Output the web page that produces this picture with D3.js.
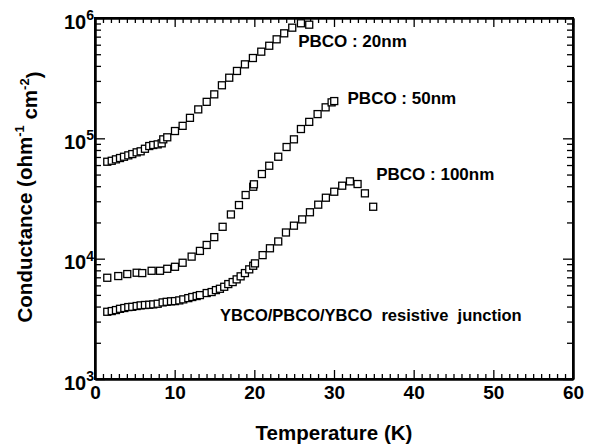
<!DOCTYPE html>
<html>
<head>
<meta charset="utf-8">
<script src="https://cdn.jsdelivr.net/npm/d3@7"></script>
<style>
body { margin: 0; background: #fff; }
svg text { font-family: "Liberation Sans", Arial, Helvetica, sans-serif; font-weight: bold; fill: #000; }
.axis path, .axis line { stroke: #000; }
</style>
</head>
<body>
<svg id="chart" width="595" height="444"></svg>
<script>
// temperature (K) and conductance (ohm^-1 cm^-2)
var t20 = [1.54, 2.10, 2.63, 3.14, 3.64, 4.18, 4.68, 5.23, 5.73, 6.27, 6.81, 7.31, 7.87, 8.37, 8.57, 9.07,
    10.04, 11.0, 11.92, 12.96, 14.02, 14.97, 15.93, 16.85, 17.82, 18.82, 19.82, 20.87, 21.87, 22.80, 23.75, 24.76, 25.85, 26.89];
var g20 = [6.39e4, 6.51e4, 6.69e4, 6.86e4, 7.03e4, 7.22e4, 7.40e4, 7.65e4, 7.80e4, 8.19e4, 8.63e4, 8.80e4, 8.91e4, 9.09e4, 9.81e4, 1.02e5,
    1.15e5, 1.27e5, 1.48e5, 1.74e5, 2.01e5, 2.32e5, 2.76e5, 3.19e5, 3.63e5, 4.12e5, 4.65e5, 5.25e5, 5.88e5, 6.65e5, 7.46e5, 8.31e5, 9.04e5, 8.80e5];

var t50 = [1.54, 2.92, 4.05, 5.23, 5.93, 7.11, 8.16, 9.07, 10.04, 11.0, 12.13, 13.17, 14.02, 14.97, 16.02, 17.06, 18.07,
    18.91, 19.86, 19.95, 20.95, 21.87, 23.0, 24.05, 24.97, 25.85, 26.89, 27.94, 28.95, 29.70, 30.03];
var g50 = [6.94e3, 7.17e3, 7.45e3, 7.64e3, 7.59e3, 7.93e3, 7.93e3, 8.24e3, 8.56e3, 9.25e3, 1.04e4, 1.16e4, 1.30e4, 1.51e4, 1.84e4, 2.33e4, 2.79e4,
    3.38e4, 3.96e4, 4.15e4, 5.05e4, 5.92e4, 7.03e4, 8.47e4, 9.81e4, 1.195e5, 1.37e5, 1.59e5, 1.81e5, 1.99e5, 2.04e5];

var t100 = [1.54, 2.10, 2.63, 3.14, 3.68, 4.18, 4.68, 5.23, 5.73, 6.27, 6.81, 7.31, 7.87, 8.49, 9.0, 9.54, 10.04, 10.58, 11.08,
    11.71, 12.21, 12.76, 13.17, 14.02, 14.64, 15.18, 15.68, 16.22, 16.73, 17.28, 17.78, 18.28, 18.82, 19.36, 19.86, 20.08,
    21.04, 21.96, 23.0, 23.97, 24.97, 26.01, 26.98, 28.02, 28.98, 30.03, 31.03, 32.0, 32.96, 33.88, 34.92];
var g100 = [3.62e3, 3.67e3, 3.74e3, 3.83e3, 3.89e3, 3.96e3, 3.98e3, 4.04e3, 4.09e3, 4.12e3, 4.14e3, 4.17e3, 4.22e3, 4.33e3, 4.38e3, 4.42e3, 4.44e3, 4.50e3, 4.59e3,
    4.70e3, 4.80e3, 4.89e3, 4.98e3, 5.18e3, 5.28e3, 5.48e3, 5.62e3, 5.84e3, 6.15e3, 6.39e3, 6.73e3, 7.13e3, 7.59e3, 8.15e3, 8.73e3, 9.14e3,
    1.07e4, 1.22e4, 1.39e4, 1.65e4, 1.88e4, 2.12e4, 2.43e4, 2.81e4, 3.21e4, 3.60e4, 4.04e4, 4.39e4, 4.17e4, 3.49e4, 2.70e4];

var seriesLabels = ["PBCO : 20nm", "PBCO : 50nm", "PBCO : 100nm"];
var xTicks = [0, 10, 20, 30, 40, 50, 60];
var yDecades = [1e3, 1e4, 1e5, 1e6];

var svg = d3.select("#chart");
var margin = { left: 95, right: 573, top: 18, bottom: 379 };

var x = d3.scaleLinear().domain([0, 60]).range([margin.left, margin.right]);
var y = d3.scaleLog().domain([1e3, 1e6]).range([margin.bottom, margin.top]);

var minorX = d3.range(0, 61, 1).filter(function(d) { return d % 10 !== 0; });
var minorY = [];
[1e3, 1e4, 1e5].forEach(function(p) {
    for (var k = 2; k <= 9; k++) minorY.push(p * k);
});

function noLabels(axis) {
    return axis.tickFormat("").tickSizeOuter(0);
}

// minor ticks, all four sides, pointing in
svg.append("g").attr("class", "axis").attr("transform", "translate(0," + margin.bottom + ")")
    .call(noLabels(d3.axisBottom(x).tickValues(minorX).tickSize(-5)));
svg.append("g").attr("class", "axis").attr("transform", "translate(0," + margin.top + ")")
    .call(noLabels(d3.axisTop(x).tickValues(minorX).tickSize(-5)));
svg.append("g").attr("class", "axis").attr("transform", "translate(" + margin.left + ",0)")
    .call(noLabels(d3.axisLeft(y).tickValues(minorY).tickSize(-6)));
svg.append("g").attr("class", "axis").attr("transform", "translate(" + margin.right + ",0)")
    .call(noLabels(d3.axisRight(y).tickValues(minorY).tickSize(-6)));

// major ticks
var xAxis = svg.append("g").attr("class", "axis").attr("transform", "translate(0," + margin.bottom + ")")
    .call(d3.axisBottom(x).tickValues(xTicks).tickSize(-9).tickSizeOuter(0).tickPadding(6).tickFormat(d3.format("d")));
xAxis.selectAll("text").attr("font-size", 19).attr("dy", "0.74em");

svg.append("g").attr("class", "axis").attr("transform", "translate(0," + margin.top + ")")
    .call(noLabels(d3.axisTop(x).tickValues(xTicks).tickSize(-9)));
svg.append("g").attr("class", "axis").attr("transform", "translate(" + margin.right + ",0)")
    .call(noLabels(d3.axisRight(y).tickValues(yDecades).tickSize(-10)));

var yAxis = svg.append("g").attr("class", "axis").attr("transform", "translate(" + margin.left + ",0)")
    .call(d3.axisLeft(y).tickValues(yDecades).tickSize(-10).tickSizeOuter(0).tickPadding(0).tickFormat(""));
yAxis.selectAll(".tick text").each(function(d) {
    var t = d3.select(this).attr("font-size", 20).attr("dy", "0.5em").attr("x", -1);
    t.append("tspan").text("10");
    t.append("tspan").attr("font-size", 14).attr("dy", "-0.6em").text(Math.round(Math.log10(d)));
});

svg.selectAll(".axis path").attr("stroke-width", 2);
svg.selectAll(".axis line").attr("stroke-width", 1.3);

// frame
svg.append("rect").attr("x", margin.left).attr("y", margin.top)
    .attr("width", margin.right - margin.left).attr("height", margin.bottom - margin.top)
    .attr("fill", "none").attr("stroke", "#000").attr("stroke-width", 2);

// markers
function drawSeries(ts, gs) {
    var pts = ts.map(function(t, i) { return [t, gs[i]]; });
    svg.append("g").selectAll("rect").data(pts).enter().append("rect")
        .attr("x", function(d) { return x(d[0]) - 3.5; })
        .attr("y", function(d) { return y(d[1]) - 3.5; })
        .attr("width", 7).attr("height", 7)
        .attr("fill", "#fff").attr("stroke", "#000").attr("stroke-width", 1.3);
}
drawSeries(t20, g20);
drawSeries(t50, g50);
drawSeries(t100, g100);

// annotations
svg.append("text").attr("x", x(25.5)).attr("y", y(5.7e5)).attr("font-size", 17).text(seriesLabels[0]);
svg.append("text").attr("x", x(31.7)).attr("y", y(1.94e5)).attr("font-size", 17).text(seriesLabels[1]);
svg.append("text").attr("x", x(35.3)).attr("y", y(4.5e4)).attr("font-size", 17).text(seriesLabels[2]);
svg.append("text").attr("x", x(15.7)).attr("y", y(3.05e3)).attr("font-size", 16.5)
    .style("white-space", "pre").text("YBCO/PBCO/YBCO  resistive  junction");

// axis titles
svg.append("text").attr("x", 334).attr("y", 440).attr("text-anchor", "middle").attr("font-size", 20.5)
    .text("Temperature (K)");

var yt = svg.append("text").attr("text-anchor", "middle").attr("font-size", 20.5)
    .attr("transform", "translate(32,197) rotate(-90)");
yt.append("tspan").text("Conductance (ohm");
yt.append("tspan").attr("font-size", 13).attr("dy", "-0.6em").text("-1");
yt.append("tspan").attr("dy", "0.6em").text(" cm");
yt.append("tspan").attr("font-size", 13).attr("dy", "-0.6em").text("-2");
yt.append("tspan").attr("dy", "0.6em").text(")");
</script>
</body>
</html>
